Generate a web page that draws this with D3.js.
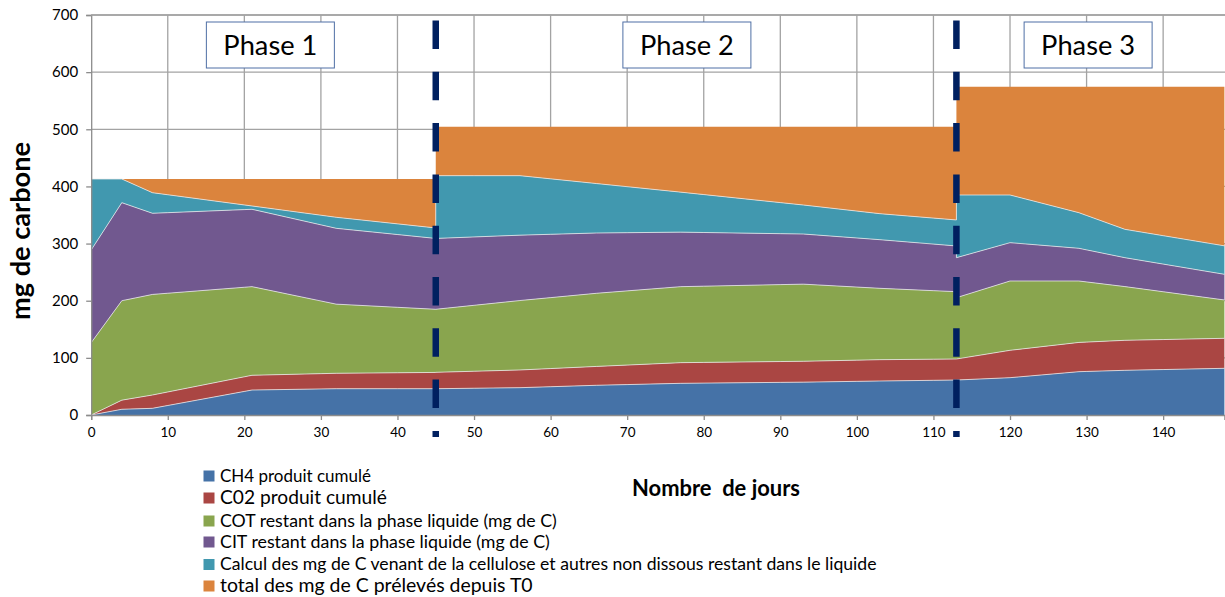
<!DOCTYPE html>
<html>
<head>
<meta charset="utf-8">
<script src="https://cdnjs.cloudflare.com/ajax/libs/d3/7.8.5/d3.min.js"></script>
<style>
  html, body { margin: 0; padding: 0; background: #fff; }
  svg { display: block; }
  text { font-family: Lato, "Open Sans", sans-serif; }
</style>
</head>
<body>
<svg id="chart" width="1225" height="597"></svg>
<script>
// ---- Data ----
const days   = [0, 4, 8, 21, 32, 45,   45, 56, 66, 77, 93, 103, 113,   113, 120, 129, 135, 148];
const ch4    = [0, 10, 11.7, 43.7, 46, 46,   46, 47.8, 52, 55.4, 57.5, 59.5, 61.2,   61.2, 65.3, 75.8, 78.2, 81.7];
const co2    = [0, 16, 23.3, 25.8, 27, 28.5,   28.7, 31, 33, 36.2, 36.5, 37.3, 36.8,   36.8, 47.9, 51.2, 52.5, 52.5];
const cot    = [126.6, 174, 176, 155.1, 121, 110.5,   110.3, 121.5, 128, 133, 135, 124.9, 117.8,   107.3, 121.3, 107.5, 94, 67.1];
const cit    = [162.2, 171.6, 142, 135.4, 132.7, 124,   124, 114.4, 105.5, 95.4, 87.7, 85.1, 80,   70, 67.1, 57.2, 50.6, 44.9];
const calcul = [124.2, 41.4, 36, 5.8, 19.3, 18.3,   109.8, 104.1, 86.5, 70, 50.8, 45.5, 45.5,   109.7, 83.4, 62.3, 49.6, 49.8];
const total  = [0, 0, 24, 47.2, 67, 85.7,   85.7, 85.7, 99.5, 114.5, 137, 152.2, 163.2,   189.6, 189.6, 220.6, 249.7, 278.6];

const seriesKeys = ["ch4", "co2", "cot", "cit", "calcul", "total"];
const seriesNames = [
  "CH4 produit cumulé",
  "C02 produit cumulé",
  "COT restant dans la phase liquide (mg de C)",
  "CIT restant dans la phase liquide (mg de C)",
  "Calcul des mg de C venant de la cellulose et autres non dissous restant dans le liquide",
  "total des mg de C prélevés depuis T0"
];
const seriesColors = ["#4572A7", "#AA4643", "#89A54E", "#71588F", "#4198AF", "#DB843D"];

const yTicks = [0, 100, 200, 300, 400, 500, 600, 700];
const xTicks = [0, 10, 20, 30, 40, 50, 60, 70, 80, 90, 100, 110, 120, 130, 140];
const phaseDividers = [45, 113];
const phaseLabels = ["Phase 1", "Phase 2", "Phase 3"];
const phaseCenters = [23.4, 77.8, 130.2];

const yTitle = "mg de carbone";
const xTitle = "Nombre  de jours";

// ---- Build table ----
const rows = days.map((d, i) => ({
  day: d, ch4: ch4[i], co2: co2[i], cot: cot[i], cit: cit[i], calcul: calcul[i], total: total[i]
}));

const svg = d3.select("#chart");
const L = 91.2, R = 1224.4, T = 15, B = 415;
const x = d3.scaleLinear().domain([0, 148]).range([L, R]);
const y = d3.scaleLinear().domain([0, 700]).range([B, T]);

function fitWidth(sel, target) {
  const node = sel.node();
  const fs = parseFloat(sel.attr("font-size"));
  const w = node.getComputedTextLength();
  if (w > 0) sel.attr("font-size", (fs * target / w).toFixed(2));
}

// ---- Gridlines ----
const grid = svg.append("g");
grid.selectAll("line.h").data(yTicks.filter(v => v > 0)).join("line")
  .attr("x1", L).attr("x2", 1225).attr("y1", d => y(d)).attr("y2", d => y(d))
  .attr("stroke", "#a3a3a3").attr("stroke-width", 1.3);
grid.selectAll("line.v").data(xTicks.filter(v => v > 0)).join("line")
  .attr("x1", d => x(d)).attr("x2", d => x(d)).attr("y1", T).attr("y2", B)
  .attr("stroke", "#a3a3a3").attr("stroke-width", 1.3);

// ---- Stacked areas ----
const stack = d3.stack().keys(seriesKeys);
const layers = stack(rows);
const area = d3.area()
  .x(d => x(d.data.day))
  .y0(d => y(d[0]))
  .y1(d => y(d[1]));
const topLine = d3.line()
  .x(d => x(d.data.day))
  .y(d => y(d[1]));

svg.append("g").selectAll("path").data(layers).join("path")
  .attr("d", area)
  .attr("fill", (d, i) => seriesColors[i]);

svg.append("g").selectAll("path").data(layers.slice(0, 5)).join("path")
  .attr("d", topLine)
  .attr("fill", "none")
  .attr("stroke", "rgba(235,235,235,0.75)")
  .attr("stroke-width", 1);

// ---- Axes ----
const yAxis = d3.axisLeft(y).tickValues(yTicks).tickSize(5).tickPadding(8);
const gy = svg.append("g").attr("transform", `translate(${L},0)`).call(yAxis);
gy.select(".domain").attr("stroke", "#8c8c8c").attr("stroke-width", 1.3);
gy.selectAll(".tick line").attr("stroke", "#8c8c8c").attr("stroke-width", 1.3);
gy.selectAll(".tick text").attr("font-size", 15).attr("fill", "#000")
  .attr("font-family", "Lato, sans-serif");

const xAxis = d3.axisBottom(x).tickValues(xTicks).tickSize(5).tickPadding(7);
const gx = svg.append("g").attr("transform", `translate(0,${B})`).call(xAxis);
gx.select(".domain").attr("stroke", "#8c8c8c").attr("stroke-width", 1.3);
gx.selectAll(".tick line").attr("stroke", "#8c8c8c").attr("stroke-width", 1.3);
gx.selectAll(".tick text").attr("font-size", 13.5).attr("fill", "#000")
  .attr("font-family", "Lato, sans-serif");

// top border
svg.append("line").attr("x1", L).attr("x2", 1225).attr("y1", y(700)).attr("y2", y(700))
  .attr("stroke", "#a3a3a3").attr("stroke-width", 1.3);

// ---- Phase dividers ----
svg.append("g").selectAll("line").data(phaseDividers).join("line")
  .attr("x1", d => x(d)).attr("x2", d => x(d))
  .attr("y1", 20.5).attr("y2", 437)
  .attr("stroke", "#002060").attr("stroke-width", 6.5)
  .attr("stroke-dasharray", "28.5 22.8");

// ---- Phase labels ----
const pg = svg.append("g");
phaseLabels.forEach((lab, i) => {
  const cx = x(phaseCenters[i]);
  pg.append("rect").attr("x", cx - 64).attr("y", 22).attr("width", 128).attr("height", 46)
    .attr("fill", "#fff").attr("stroke", "#4f6fa5").attr("stroke-width", 1);
  const t = pg.append("text").attr("x", cx).attr("y", 54.5)
    .attr("text-anchor", "middle").attr("font-size", 26).attr("fill", "#000").text(lab);
  fitWidth(t, 94);
});

// ---- Axis titles ----
const yt = svg.append("text")
  .attr("transform", "translate(30,231) rotate(-90)")
  .attr("text-anchor", "middle").attr("font-weight", "bold")
  .attr("font-size", 23).attr("fill", "#000").text(yTitle);
fitWidth(yt, 178);

const xt = svg.append("text")
  .attr("x", 716).attr("y", 496)
  .attr("text-anchor", "middle").attr("font-weight", "bold")
  .attr("font-size", 19).attr("fill", "#000").attr("xml:space", "preserve")
  .style("white-space", "pre").text(xTitle);
fitWidth(xt, 168);

// ---- Legend ----
const legendY = [476, 498, 521, 542, 564.5, 586];
const legendW = [151, 167, 337, 330, 657, 313];
const lg = svg.append("g");
seriesNames.forEach((name, i) => {
  lg.append("rect").attr("x", 203.5).attr("y", legendY[i] - 5.5).attr("width", 11).attr("height", 11)
    .attr("fill", seriesColors[i]);
  const t = lg.append("text").attr("x", 220).attr("y", legendY[i] + 5.5)
    .attr("font-size", 16).attr("fill", "#000").text(name);
  fitWidth(t, legendW[i]);
});
</script>
</body>
</html>
